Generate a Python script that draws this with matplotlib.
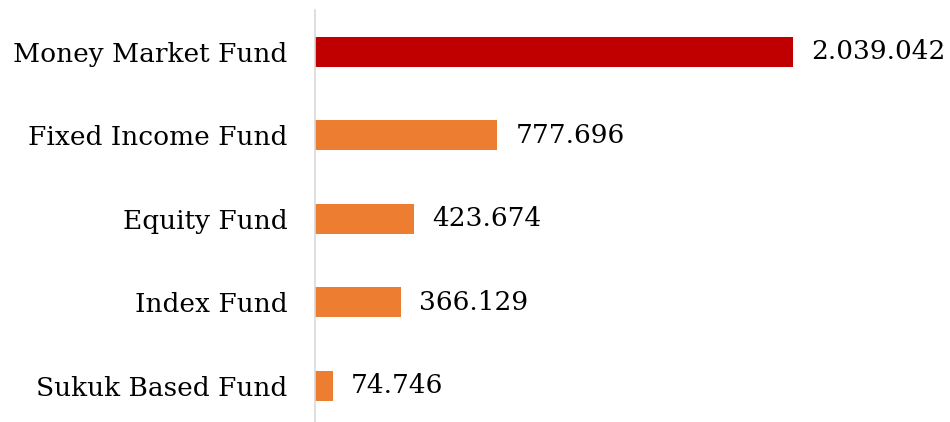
import matplotlib
matplotlib.use("Agg")
import matplotlib.pyplot as plt

categories = ["Money Market Fund", "Fixed Income Fund", "Equity Fund", "Index Fund", "Sukuk Based Fund"]
values = [2039042, 777696, 423674, 366129, 74746]
labels = ["2.039.042", "777.696", "423.674", "366.129", "74.746"]
colors = ["#C00000", "#ED7D31", "#ED7D31", "#ED7D31", "#ED7D31"]

plt.rcParams['font.family'] = ['DejaVu Serif']

fig = plt.figure(figsize=(9.5, 4.22), dpi=100)
ax = fig.add_axes([315/950, 0, 635/950, 412/422])
ypos = list(range(len(categories)))
ax.barh(ypos, values, height=0.36, color=colors)
ax.set_xlim(0, 2039042 * 635 / 478)
ax.set_ylim(-0.5 + 412/83.5, -0.5)
for y, v, l in zip(ypos, values, labels):
    ax.annotate(l, xy=(v, y), xytext=(13, 0), textcoords='offset points',
                va='center', ha='left', fontsize=19, color='black')
ax.set_yticks(ypos)
ax.set_yticklabels(categories, fontsize=19)
ax.tick_params(axis='y', length=0, pad=20)
ax.set_xticks([])
for s in ['top', 'right', 'bottom']:
    ax.spines[s].set_visible(False)
ax.spines['left'].set_color('#D9D9D9')
ax.spines['left'].set_linewidth(1.2)
fig.savefig("out.png", dpi=100)
